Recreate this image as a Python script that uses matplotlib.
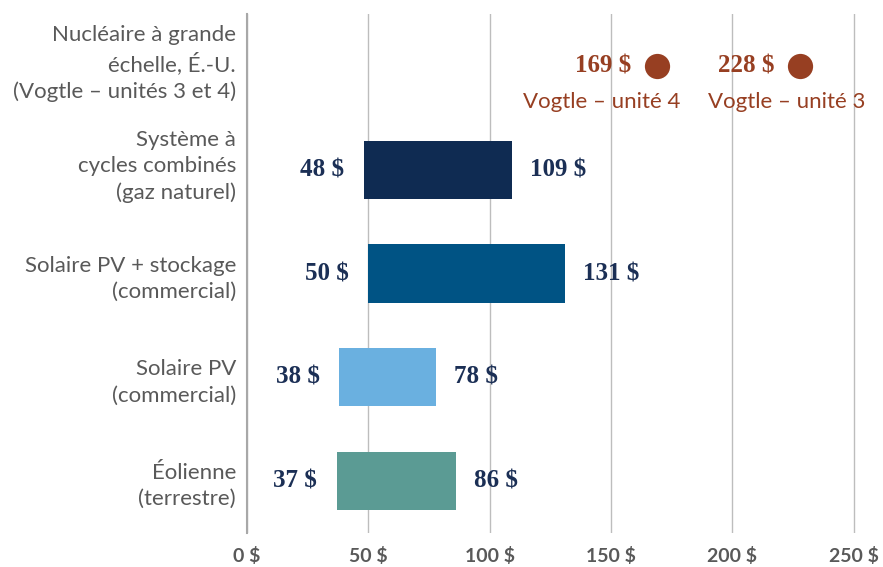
import matplotlib.pyplot as plt
import matplotlib.transforms as mtransforms

categories = ['Nucléaire à grande\néchelle, É.-U.\n(Vogtle – unités 3 et 4)',
              'Système à\ncycles combinés\n(gaz naturel)',
              'Solaire PV + stockage\n(commercial)',
              'Solaire PV\n(commercial)',
              'Éolienne\n(terrestre)']
low = [48, 50, 38, 37]
high = [109, 131, 78, 86]
bar_colors = ['#0f2b52', '#005384', '#6ab0e0', '#5b9b94']
nuclear = [169, 228]
nuclear_units = ['Vogtle – unité 4', 'Vogtle – unité 3']
ticks = [0, 50, 100, 150, 200, 250]

navy = '#1b2f55'
rust = '#973f22'
grey = '#595959'
serif = 'Liberation Serif'

fig = plt.figure(figsize=(8.83, 5.67), dpi=100)
ax = fig.add_axes([247 / 883, 34 / 567, 636 / 883, 519 / 567])

ypos = range(1, 5)
for y, lo, hi, c in zip(ypos, low, high, bar_colors):
    ax.barh(y, hi - lo, left=lo, height=0.56, color=c, zorder=3)
    ax.annotate(f'{lo} $', (lo, y), xytext=(-14, 0), textcoords='offset points',
                ha='right', va='center', fontsize=18, fontweight='bold',
                family=serif, color=navy)
    ax.annotate(f'{hi} $', (hi, y), xytext=(13, 0), textcoords='offset points',
                ha='left', va='center', fontsize=18, fontweight='bold',
                family=serif, color=navy)

# nuclear points
ax.scatter(nuclear, [0, 0], s=330, color=rust, zorder=4, linewidths=0)
label_shift = [-40, -10]
for v, unit, sh in zip(nuclear, nuclear_units, label_shift):
    ax.annotate(f'{v} $', (v, 0), xytext=(-19, 0), textcoords='offset points',
                ha='right', va='center', fontsize=18, fontweight='bold',
                family=serif, color=rust)
    ax.annotate(unit, (v, 0), xytext=(sh, -26), textcoords='offset points',
                ha='center', va='center', fontsize=16, family='Lato', color=rust)

ax.set_xlim(0, 262)
ax.set_ylim(4.5, -0.5)
ax.set_yticks(range(5))
ax.set_yticklabels(categories, fontsize=16, family='Lato', color=grey,
                   linespacing=1.38)
ax.tick_params(axis='y', length=0, pad=8)
# three-line labels sit a little higher in the original
for lab in ax.get_yticklabels():
    if lab.get_text().count('\n') == 2:
        lab.set_transform(lab.get_transform() +
                          mtransforms.ScaledTranslation(0, 8 / 100, fig.dpi_scale_trans))
ax.set_xticks(ticks)
ax.set_xticklabels([f'{t} $' for t in ticks], fontsize=14, fontweight='bold',
                   family='Lato', color=grey)
ax.tick_params(axis='x', length=0, pad=10)
ax.grid(axis='x', color='#bdbdbd', linewidth=1, zorder=0)
for s in ['top', 'right', 'bottom']:
    ax.spines[s].set_visible(False)
ax.spines['left'].set_color('#a8a8a8')
ax.spines['left'].set_linewidth(1.5)

fig.savefig('out.png', dpi=100)
